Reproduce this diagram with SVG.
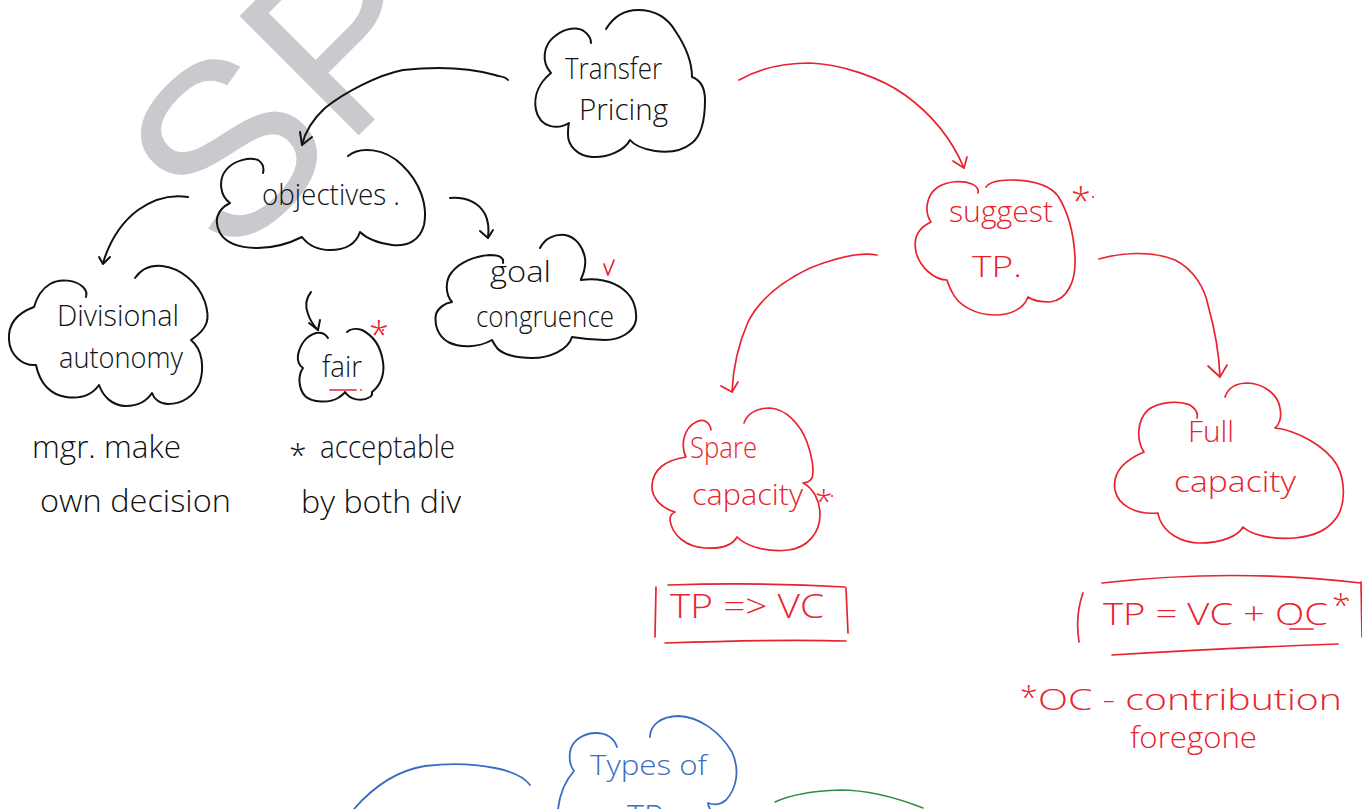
<svg xmlns="http://www.w3.org/2000/svg" width="1362" height="809" viewBox="0 0 1362 809">
  <style>
    .ink { fill: none; stroke-linecap: round; stroke-linejoin: round; }
    .k { stroke: #111111; stroke-width: 2; }
    .r { stroke: #e8232e; stroke-width: 1.7; }
    .b { stroke: #3b6cc4; stroke-width: 1.8; }
    .g { stroke: #2f8f3f; stroke-width: 1.6; }
    text { font-family: "Open Sans", "Liberation Sans", Arial, sans-serif; font-weight: 300; }
    .tk { fill: #111111; }
    .tr { fill: #e8232e; }
    .tb { fill: #3b6cc4; }
    .wm { fill: #cacace; font-size: 245px; font-family: "Liberation Sans", Arial, sans-serif; font-weight: 400; }
  </style>

  <rect width="1362" height="809" fill="#ffffff"/>

  <!-- faint lettering behind the sketch -->
  <g id="watermark">
    <text class="wm" transform="translate(229,265) rotate(-45)">SP</text>
  </g>

  <!-- black branch -->
  <g id="node-transfer-pricing">
    <path class="ink k" d="M606,29 C614,16 626,10 638,10 C656,10 668,18 676,32 C688,50 692,65 692,77 C700,80 705,88 705,100 C705,120 702,135 692,143 C682,151 668,153 655,151 C643,149 634,145 630,140 C625,150 608,158 592,157 C578,156 568,146 568,135 C568,130 568,126 569,123 C558,130 540,128 536,110 C533,95 540,82 551,73 C541,62 543,45 555,36 C565,28 578,26 585,32 C590,36 591,40 591,43"/>
    <text class="tk" x="565" y="79" font-size="30" textLength="97" lengthAdjust="spacingAndGlyphs">Transfer</text>
    <text class="tk" x="579" y="120" font-size="30" textLength="89" lengthAdjust="spacingAndGlyphs">Pricing</text>
  </g>

  <g id="node-objectives">
    <path class="ink k" d="M348,156 C360,146 385,148 402,165 C420,182 428,205 424,225 C420,240 408,247 392,245 C378,243 366,238 360,232 C356,244 345,250 330,250 C318,250 308,245 302,237 C290,243 275,248 258,248 C240,248 226,243 220,233 C214,222 216,210 230,203 C220,196 218,180 226,170 C234,160 250,157 258,160 C264,164 264,169 263,173"/>
    <text class="tk" x="262" y="205" font-size="30" textLength="138" lengthAdjust="spacingAndGlyphs">objectives .</text>
  </g>

  <g id="node-divisional-autonomy">
    <path class="ink k" d="M135,278 C142,268 152,265 162,266 C180,268 198,282 205,302 C210,318 209,328 191,340 C203,350 204,368 200,382 C195,396 182,404 168,404 C160,404 154,399 152,393 C146,402 136,406 126,406 C112,406 103,396 99,385 C92,395 80,399 66,397 C52,395 40,385 36,365 C22,366 10,355 9,340 C8,326 15,314 34,307 C36,300 40,290 50,284 C60,278 76,280 83,287 C86,290 87,294 86,297"/>
    <text class="tk" x="57" y="326" font-size="29" textLength="122" lengthAdjust="spacingAndGlyphs">Divisional</text>
    <text class="tk" x="59" y="368" font-size="29" textLength="124" lengthAdjust="spacingAndGlyphs">autonomy</text>
  </g>

  <g id="note-divisional-autonomy">
    <text class="tk" x="32" y="458" font-size="31" textLength="149" lengthAdjust="spacingAndGlyphs">mgr. make</text>
    <text class="tk" x="40" y="512" font-size="31" textLength="191" lengthAdjust="spacingAndGlyphs">own decision</text>
  </g>

  <g id="node-fair">
    <path class="ink k" d="M328,338 C325,333 321,332 316,333 C306,336 300,345 298,355 C297,362 300,366 303,368 C298,375 298,388 305,396 C312,403 330,403 338,398 C341,396 344,394 345,392 C350,400 362,402 370,397 C373,395 372,393 372,392 C380,386 385,375 383,362 C381,348 374,336 362,330 C356,328 350,329 347,332"/>
    <text class="tk" x="322" y="377" font-size="30" textLength="40" lengthAdjust="spacingAndGlyphs">fair</text>
    <path class="ink r" d="M330,390 L356,390"/>
    <circle cx="361" cy="390" r="0.9" fill="#e8232e"/>
    <text class="tr" x="369" y="348" font-size="36">*</text>
    <circle cx="383" cy="330" r="1" fill="#e8232e"/>
  </g>

  <g id="note-fair">
    <text class="tk" x="289" y="466" font-size="32">*</text>
    <text class="tk" x="320" y="458" font-size="31" textLength="135" lengthAdjust="spacingAndGlyphs">acceptable</text>
    <text class="tk" x="301" y="513" font-size="31" textLength="160" lengthAdjust="spacingAndGlyphs">by both div</text>
  </g>

  <g id="node-goal-congruence">
    <path class="ink k" d="M540,248 C545,238 555,234 565,235 C576,237 583,247 585,258 C586,266 584,273 581,279"/>
    <path class="ink k" d="M581,280 C595,278 612,280 624,290 C634,298 637,310 636,320 C634,332 620,340 605,340 C588,340 578,338 572,337 C568,350 550,358 532,358 C515,358 502,354 497,348 C494,344 493,342 492,340 C478,348 460,348 448,342 C438,336 434,325 436,314 C438,308 445,303 452,302 C445,294 445,280 452,272 C460,262 475,256 490,255 C500,255 504,258 503,263"/>
    <text class="tk" x="490" y="282" font-size="30" textLength="61" lengthAdjust="spacingAndGlyphs">goal</text>
    <text class="tk" x="476" y="327" font-size="30" textLength="138" lengthAdjust="spacingAndGlyphs">congruence</text>
    <polyline class="ink r" points="604,264 608,275 614,260"/>
  </g>

  <!-- red branch -->
  <g id="node-suggest-tp">
    <path class="ink r" d="M986,187 C990,182 998,180 1010,180 C1030,180 1048,183 1058,196 C1068,212 1074,235 1075,258 C1076,280 1068,300 1050,302 C1040,302 1032,300 1028,297 C1024,308 1012,315 995,315 C975,315 958,305 952,292 C950,288 948,284 947,280 C935,280 920,268 916,252 C913,238 918,228 931,222 C924,212 926,195 938,187 C948,181 962,180 972,184 C977,186 979,190 978,193"/>
    <text class="tr" x="949" y="222" font-size="29" textLength="104" lengthAdjust="spacingAndGlyphs">suggest</text>
    <text class="tr" x="972" y="277" font-size="29" textLength="50" lengthAdjust="spacingAndGlyphs">TP.</text>
    <text class="tr" x="1071" y="214" font-size="36">*</text>
    <circle cx="1093" cy="197" r="1" fill="#e8232e"/>
  </g>

  <g id="node-spare-capacity">
    <path class="ink r" d="M744,423 C747,414 756,408 770,408 C786,409 800,424 807,442 C813,458 814,472 812,478 C810,481 806,483 803,483 C813,488 820,500 820,515 C820,532 808,548 788,550 C770,552 748,548 737,537 C732,546 720,549 705,548 C686,547 672,535 670,520 C670,516 672,513 675,512 C660,508 651,496 652,485 C653,470 665,460 686,457 C680,445 684,428 696,422 C703,418 710,422 711,430"/>
    <text class="tr" x="690" y="458" font-size="29" textLength="67" lengthAdjust="spacingAndGlyphs">Spare</text>
    <text class="tr" x="692" y="505" font-size="29" textLength="111" lengthAdjust="spacingAndGlyphs">capacity</text>
    <text class="tr" x="815" y="512" font-size="32">*</text>
    <circle cx="832" cy="496" r="1" fill="#e8232e"/>
  </g>

  <g id="formula-spare">
    <path class="ink r" d="M656,587 L655,637 M668,585 Q760,582 845,587 M846,588 L848,633 M665,643 Q780,639 846,641"/>
    <text class="tr" x="670" y="618" font-size="33" textLength="154" lengthAdjust="spacingAndGlyphs">TP => VC</text>
  </g>

  <g id="node-full-capacity">
    <path class="ink r" d="M1225,397 C1228,388 1236,383 1248,383 C1265,384 1278,395 1280,408 C1282,418 1279,425 1275,428 C1295,430 1325,445 1337,465 C1346,482 1345,505 1337,517 C1328,530 1315,536 1295,538 C1270,540 1250,534 1243,527 C1238,536 1222,543 1200,543 C1180,543 1165,532 1160,520 C1159,517 1158,515 1158,513 C1135,515 1118,505 1115,490 C1112,472 1125,460 1144,452 C1136,440 1137,420 1148,410 C1158,402 1178,400 1190,405 C1196,409 1198,414 1197,418"/>
    <text class="tr" x="1188" y="442" font-size="29" textLength="46" lengthAdjust="spacingAndGlyphs">Full</text>
    <text class="tr" x="1174" y="492" font-size="29" textLength="122" lengthAdjust="spacingAndGlyphs">capacity</text>
  </g>

  <g id="formula-full">
    <path class="ink r" d="M1083,593 Q1075,615 1079,642 M1102,583 Q1233,568 1361,583 M1361,582 L1362,637 M1112,655 Q1230,648 1338,644 M1290,629 L1313,629"/>
    <text class="tr" x="1103" y="625" font-size="31" textLength="225" lengthAdjust="spacingAndGlyphs">TP = VC + OC</text>
    <text class="tr" x="1332" y="616" font-size="32">*</text>
    <circle cx="1348" cy="600" r="1" fill="#e8232e"/>
  </g>

  <g id="note-oc">
    <text class="tr" x="1020" y="708" font-size="32">*</text>
    <text class="tr" x="1038" y="710" font-size="29" textLength="304" lengthAdjust="spacingAndGlyphs">OC - contribution</text>
    <text class="tr" x="1130" y="748" font-size="29" textLength="127" lengthAdjust="spacingAndGlyphs">foregone</text>
  </g>

  <!-- blue branch -->
  <g id="node-types-of-tp">
    <path class="ink b" d="M617,747 C614,738 606,733 596,733 C584,733 572,740 570,752 C569,760 570,766 574,771 C566,780 560,792 558,809"/>
    <path class="ink b" d="M650,737 C650,726 660,716 679,716 C700,717 720,732 732,752 C740,770 737,788 726,800 C720,805 713,805 708,803 C708,805 709,807 710,809"/>
    <text class="tb" x="590" y="775" font-size="27" textLength="117" lengthAdjust="spacingAndGlyphs">Types of</text>
    <text class="tb" x="627" y="827" font-size="32" textLength="36" lengthAdjust="spacingAndGlyphs">TP</text>
  </g>

  <!-- connectors -->
  <g id="connectors">
    <path class="ink k" d="M508,80 C505,76 500,77 495,75 C470,68 440,66 403,70 C378,75 345,92 325,108 C312,120 305,132 302,145"/>
    <polyline class="ink k" points="300,132 302,145 312,137"/>
    <path class="ink k" d="M188,197 C170,194 152,200 138,210 C122,222 110,240 103,263"/>
    <polyline class="ink k" points="99,257 103,264 110,257"/>
    <path class="ink k" d="M450,198 C465,197 478,202 485,214 C489,222 489,230 488,238"/>
    <polyline class="ink k" points="480,231 488,238 493,230"/>
    <path class="ink k" d="M311,292 C306,298 305,306 308,314 C310,320 314,326 318,330"/>
    <polyline class="ink k" points="309,323 318,330 320,320"/>

    <path class="ink r" d="M739,80 C760,68 785,63 810,63 C840,64 880,77 905,95 C930,113 950,135 964,168"/>
    <polyline class="ink r" points="953,161 964,168 967,157"/>
    <path class="ink r" d="M877,255 C860,252 835,258 810,268 C785,280 760,298 748,322 C738,345 733,368 732,392"/>
    <polyline class="ink r" points="721,386 732,392 738,382"/>
    <path class="ink r" d="M1099,259 C1120,253 1150,250 1175,260 C1195,270 1205,290 1208,305 C1215,330 1219,350 1220,377"/>
    <polyline class="ink r" points="1208,366 1220,377 1227,365"/>

    <path class="ink b" d="M530,785 C525,778 515,772 495,768 C475,764 450,763 425,766 C400,770 375,785 354,809"/>
    <path class="ink g" d="M775,802 C790,795 810,791 840,790 C868,790 895,797 923,808"/>
  </g>
</svg>
